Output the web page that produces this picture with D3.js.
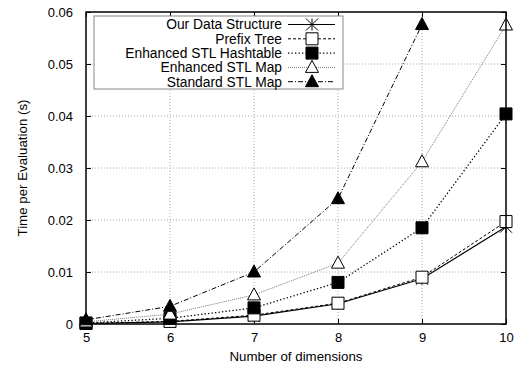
<!DOCTYPE html>
<html>
<head>
<meta charset="utf-8">
<script src="https://cdn.jsdelivr.net/npm/d3@7"></script>
<style>
  body { margin: 0; background: #fff; }
  text { font-family: "Liberation Sans", Arial, sans-serif; font-size: 13.3px; fill: #000; }
</style>
</head>
<body>
<div id="chart"></div>
<script>
// data
var dims = [5, 6, 7, 8, 9, 10];
var ourData = [0.0001, 0.0004, 0.0015, 0.0039, 0.0087, 0.0187];
var prefixTree = [0.0001, 0.0005, 0.0017, 0.0040, 0.0090, 0.0197];
var stlHashtable = [0.0002, 0.0011, 0.0031, 0.0080, 0.0185, 0.0404];
var stlMapEnhanced = [0.0004, 0.0019, 0.0056, 0.0117, 0.0312, 0.0575];
var stlMapStandard = [0.0008, 0.0034, 0.0100, 0.0241, 0.0576];
var seriesNames = ["Our Data Structure", "Prefix Tree", "Enhanced STL Hashtable", "Enhanced STL Map", "Standard STL Map"];
var yTicks = [0, 0.01, 0.02, 0.03, 0.04, 0.05, 0.06];
var xTicks = [5, 6, 7, 8, 9, 10];

var svgWidth = 524;
var svgHeight = 371;
var margin = { top: 12, right: 18, bottom: 47, left: 86 };
var width = svgWidth - margin.left - margin.right;
var height = svgHeight - margin.top - margin.bottom;
var titleFont = "13.3px";
var tickFont = "13px";
var legendFont = "13.8px";

var svg = d3.select("#chart")
  .append("svg")
  .attr("width", svgWidth)
  .attr("height", svgHeight);

var chartGroup = svg.append("g")
  .attr("transform", `translate(${margin.left}, ${margin.top})`);

var xScale = d3.scaleLinear().domain([5, 10]).range([0, width]);
var yScale = d3.scaleLinear().domain([0, 0.06]).range([height, 0]);

// grid
var grid = chartGroup.append("g").attr("class", "grid");
grid.selectAll("line.gy")
  .data(yTicks.slice(1, -1))
  .enter().append("line")
  .attr("x1", 0).attr("x2", width)
  .attr("y1", d => yScale(d)).attr("y2", d => yScale(d))
  .attr("stroke", "#a8a8a8").attr("stroke-width", 1)
  .attr("stroke-dasharray", "1,2");
grid.selectAll("line.gx")
  .data(xTicks.slice(1, -1))
  .enter().append("line")
  .attr("x1", d => xScale(d)).attr("x2", d => xScale(d))
  .attr("y1", 0).attr("y2", height)
  .attr("stroke", "#a8a8a8").attr("stroke-width", 1)
  .attr("stroke-dasharray", "1,2");

// axes, ticks pointing inward like gnuplot
var leftAxis = d3.axisLeft(yScale).tickValues(yTicks).tickSize(-5).tickPadding(13)
  .tickFormat(d => d === 0 ? "0" : d3.format(".2f")(d));
var bottomAxis = d3.axisBottom(xScale).tickValues(xTicks).tickSize(-5).tickPadding(9)
  .tickFormat(d3.format("d"));
var rightAxis = d3.axisRight(yScale).tickValues(yTicks).tickSize(-5).tickFormat("");
var topAxis = d3.axisTop(xScale).tickValues(xTicks).tickSize(-5).tickFormat("");

chartGroup.append("g").call(leftAxis);
chartGroup.append("g").attr("transform", `translate(0, ${height})`).call(bottomAxis);
chartGroup.append("g").attr("transform", `translate(${width}, 0)`).call(rightAxis);
chartGroup.append("g").call(topAxis);
chartGroup.selectAll(".domain").remove();
chartGroup.selectAll(".tick line").attr("stroke", "#000");
chartGroup.selectAll(".tick text").style("font-size", tickFont).attr("fill", "#000");

// marker paths
function markerPath(type) {
  var s = 6;
  if (type === "star") return `M${-s},0H${s}M0,${-s}V${s}M${-s},${-s}L${s},${s}M${-s},${s}L${s},${-s}`;
  if (type === "square") return `M${-s},${-s}H${s}V${s}H${-s}Z`;
  if (type === "triangle") return `M0,${-s - 1}L${s + 0.5},${s - 1}H${-s - 0.5}Z`;
  return "";
}

var series = [
  { name: seriesNames[0], values: ourData, dash: null, color: "#000", width: 1.2, marker: "star", fill: "none" },
  { name: seriesNames[1], values: prefixTree, dash: "3,2", color: "#000", width: 1, marker: "square", fill: "#fff" },
  { name: seriesNames[2], values: stlHashtable, dash: "1.3,2.2", color: "#000", width: 1.3, marker: "square", fill: "#000" },
  { name: seriesNames[3], values: stlMapEnhanced, dash: "1,1", color: "#555", width: 0.8, marker: "triangle", fill: "#fff" },
  { name: seriesNames[4], values: stlMapStandard, dash: "5,2,1,2", color: "#000", width: 1, marker: "triangle", fill: "#000" }
];

var lineGen = d3.line()
  .x(d => xScale(d.x))
  .y(d => yScale(d.y));

series.forEach(function(s) {
  var pts = s.values.map((v, i) => ({ x: dims[i], y: v }));
  chartGroup.append("path")
    .datum(pts)
    .attr("d", lineGen)
    .attr("fill", "none")
    .attr("stroke", s.color)
    .attr("stroke-width", s.width)
    .attr("stroke-dasharray", s.dash);
  chartGroup.selectAll(null)
    .data(pts)
    .enter().append("path")
    .attr("transform", d => `translate(${xScale(d.x)}, ${yScale(d.y)})`)
    .attr("d", markerPath(s.marker))
    .attr("fill", s.fill)
    .attr("stroke", "#000")
    .attr("stroke-width", 1);
});

// frame
chartGroup.append("rect")
  .attr("width", width).attr("height", height)
  .attr("fill", "none").attr("stroke", "#000").attr("stroke-width", 1.5);

// legend
var legend = chartGroup.append("g").attr("transform", "translate(8, 4)");
legend.append("rect")
  .attr("width", 249).attr("height", 73)
  .attr("fill", "#fff").attr("stroke", "#888").attr("stroke-width", 1);
series.forEach(function(s, i) {
  var y = 8.5 + i * 14.3;
  legend.append("text")
    .attr("x", 188).attr("y", y).attr("dy", "0.35em")
    .attr("text-anchor", "end")
    .style("font-size", legendFont)
    .text(s.name);
  legend.append("line")
    .attr("x1", 194).attr("x2", 241).attr("y1", y).attr("y2", y)
    .attr("stroke", s.color).attr("stroke-width", s.width)
    .attr("stroke-dasharray", s.dash);
  legend.append("path")
    .attr("transform", `translate(218, ${y})`)
    .attr("d", markerPath(s.marker))
    .attr("fill", s.fill)
    .attr("stroke", "#000").attr("stroke-width", 1);
});

// axis titles
chartGroup.append("text")
  .attr("x", width / 2).attr("y", height + 37)
  .attr("text-anchor", "middle")
  .style("font-size", titleFont)
  .text("Number of dimensions");

chartGroup.append("text")
  .attr("transform", "rotate(-90)")
  .attr("x", -height / 2).attr("y", -59)
  .attr("text-anchor", "middle")
  .style("font-size", titleFont)
  .text("Time per Evaluation (s)");
</script>
</body>
</html>
